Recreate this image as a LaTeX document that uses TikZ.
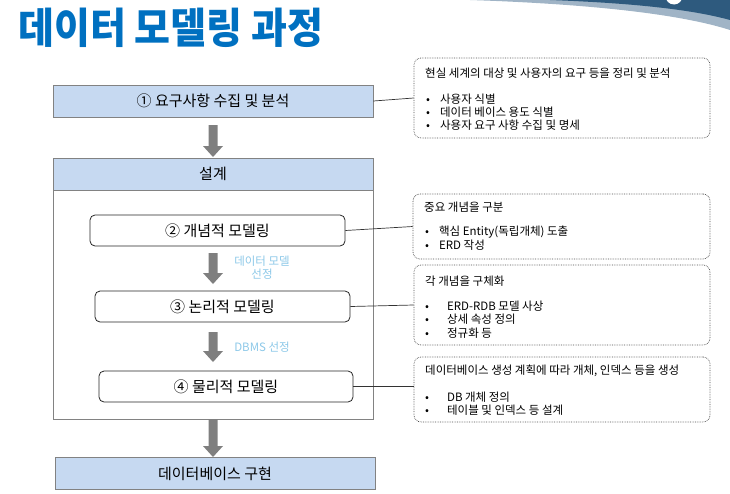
\documentclass[tikz,border=0pt]{standalone}
\usepackage{fontspec}
\setmainfont{Noto Sans CJK KR}
\newfontfamily\titlefont{Noto Sans CJK KR Black}
\definecolor{titleblue}{RGB}{0,112,192}
\definecolor{boxblue}{RGB}{198,217,241}
\definecolor{boxedge}{RGB}{130,130,130}
\definecolor{arrgray}{RGB}{127,127,127}
\definecolor{lbl}{RGB}{140,200,232}
\definecolor{swdark}{RGB}{46,90,126}
\definecolor{swlight}{RGB}{160,180,198}
\tikzset{
  bluebox/.style={draw=boxedge, fill=boxblue, line width=0.8pt, minimum height=32pt, minimum width=320pt, inner sep=0pt, font=\fontsize{15}{17}\selectfont},
  stagebox/.style={draw=black!85, rounded corners=5pt, line width=0.8pt, minimum height=31pt, minimum width=255pt, inner sep=0pt, font=\fontsize{15}{17}\selectfont},
  notebox/.style={draw=black!70, densely dotted, rounded corners=7pt, line width=0.7pt, inner sep=0pt},
  notetxt/.style={anchor=west, inner sep=0pt, font=\fontsize{11.5}{13}\selectfont},
  lbltxt/.style={text=lbl, inner sep=0pt, align=center, font=\fontsize{11.5}{13}\selectfont},
  link/.style={draw=black!80, line width=0.7pt},
}
\newcommand{\bigarrow}[3]{% x, ytop, ybottom
  \fill[arrgray] (#1-4.5,#2) -- (#1+4.5,#2) -- (#1+4.5,#3-11) -- (#1+10,#3-11) -- (#1,#3) -- (#1-10,#3-11) -- (#1-4.5,#3-11) -- cycle;}
\begin{document}
\begin{tikzpicture}[x=1pt,y=-1pt]
\useasboundingbox (0,0) rectangle (730,493);
\begin{scope}
\clip (0,0) rectangle (730,493);
\fill[swlight] (470,0) .. controls (590,4) and (680,14) .. (730,30) -- (730,0) -- cycle;
\fill[swdark] (550,0) .. controls (630,3) and (690,9) .. (730,20) -- (730,0) -- cycle;
\fill[white] (674,-4) circle (8.5);
\end{scope}
\node[anchor=west, inner sep=0pt, text=titleblue, xscale=0.93, font=\titlefont\fontsize{42}{44}\selectfont] (title) at (18,28) {데이터 모델링 과정};

% main flow
\node[bluebox, minimum width=320pt] (req) at (213,101) {① 요구사항 수집 및 분석};
\bigarrow{213}{125}{157}
\draw[boxedge, line width=0.8pt] (53,158) rectangle (373,419);
\node[bluebox, minimum width=320pt] (design) at (213,174) {설계};
\node[stagebox] (concept) at (217.5,230.5) {② 개념적 모델링};
\bigarrow{213}{253}{284}
\node[lbltxt] (lbl1) at (262,268) {데이터 모델\\선정};
\node[stagebox] (logic) at (222.5,306.5) {③ 논리적 모델링};
\bigarrow{213}{332}{362}
\node[lbltxt] (lbl2) at (262,347) {DBMS 선정};
\node[stagebox, minimum width=254pt] (phys) at (226,386.5) {④ 물리적 모델링};
\bigarrow{213}{419}{457}
\node[bluebox, minimum width=320pt] (impl) at (215,473.5) {데이터베이스 구현};

% notes
\node[notebox, minimum width=296pt, minimum height=80pt] (n1) at (562,98) {};
\node[notetxt] at (425,73) {현실 세계의 대상 및 사용자의 요구 등을 정리 및 분석};
\node[notetxt] at (426,99) {•\hspace{10pt}사용자 식별};
\node[notetxt] at (426,112) {•\hspace{10pt}데이터 베이스 용도 식별};
\node[notetxt] at (426,125) {•\hspace{10pt}사용자 요구 사항 수집 및 명세};

\node[notebox, minimum width=297pt, minimum height=65pt] (n2) at (561.5,226.5) {};
\node[notetxt] at (424,207) {중요 개념을 구분};
\node[notetxt] at (425,232) {•\hspace{10pt}핵심 Entity(독립개체) 도출};
\node[notetxt] at (425,245) {•\hspace{10pt}ERD 작성};

\node[notebox, minimum width=296pt, minimum height=80pt] (n3) at (562,305) {};
\node[notetxt] at (425,281) {각 개념을 구체화};
\node[notetxt] at (425,306) {•\hspace{18pt}ERD-RDB 모델 사상};
\node[notetxt] at (425,319) {•\hspace{18pt}상세 속성 정의};
\node[notetxt] at (425,333) {•\hspace{18pt}정규화 등};

\node[notebox, minimum width=296pt, minimum height=65pt] (n4) at (562,389.5) {};
\node[notetxt] at (425,371) {데이터베이스 생성 계획에 따라 개체, 인덱스 등을 생성};
\node[notetxt] at (425,397) {•\hspace{18pt}DB 개체 정의};
\node[notetxt] at (425,410) {•\hspace{18pt}테이블 및 인덱스 등 설계};

% links
\draw[link] (req.east) -- (n1.west);
\draw[link] (concept.east) -- (n2.west);
\draw[link] (logic.east) -- (n3.west);
\draw[link] (phys.east) -- (phys.east -| n4.west);
\end{tikzpicture}
\end{document}
